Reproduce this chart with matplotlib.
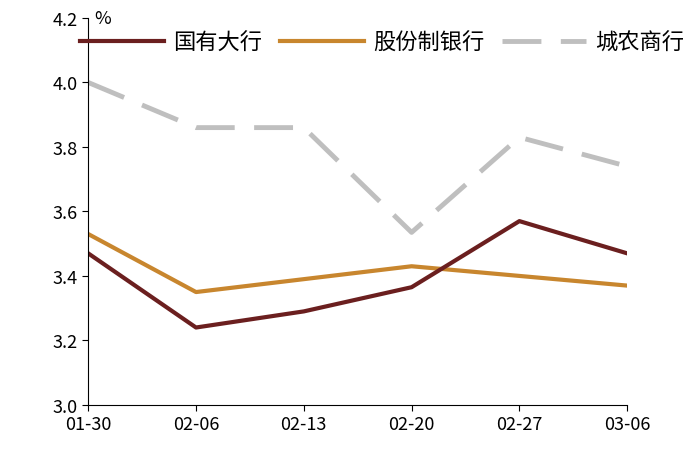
import matplotlib
matplotlib.use("Agg")
import matplotlib.pyplot as plt

plt.rcParams['font.family'] = ['Noto Sans CJK SC', 'DejaVu Sans']

dates = ["01-30", "02-06", "02-13", "02-20", "02-27", "03-06"]
big = [3.47, 3.24, 3.29, 3.365, 3.57, 3.47]
joint = [3.53, 3.35, 3.39, 3.43, 3.40, 3.37]
city = [4.00, 3.86, 3.86, 3.535, 3.83, 3.74]

fig = plt.figure(figsize=(7, 4.52), dpi=100)
ax = fig.add_axes([0.126, 0.102, 0.77, 0.856])
x = range(len(dates))
ax.plot(x, city, color="#BFBFBF", lw=3.5, dashes=(8, 4), label="城农商行")
ax.plot(x, joint, color="#C8862E", lw=3, label="股份制银行")
ax.plot(x, big, color="#6B1F1F", lw=3, label="国有大行")
ax.set_xlim(0, 5)
ax.set_ylim(3.0, 4.2)
ax.set_yticks([3.0, 3.2, 3.4, 3.6, 3.8, 4.0, 4.2])
ax.set_yticklabels([f"{v:.1f}" for v in [3.0, 3.2, 3.4, 3.6, 3.8, 4.0, 4.2]])
ax.set_xticks(list(x))
ax.set_xticklabels(dates)
ax.tick_params(labelsize=13, length=4, direction='out', colors='black')
for s in ["top", "right"]:
    ax.spines[s].set_visible(False)
ax.text(0.06, 4.2, "%", fontsize=13, va="center")
h, l = ax.get_legend_handles_labels()
ax.legend(h[::-1], l[::-1], ncol=3, loc="upper center", bbox_to_anchor=(0.545, 0.99),
          frameon=False, fontsize=16, handlelength=3.8, columnspacing=0.8, handletextpad=0.4,
          borderaxespad=0)
fig.savefig("out.png", dpi=100)
